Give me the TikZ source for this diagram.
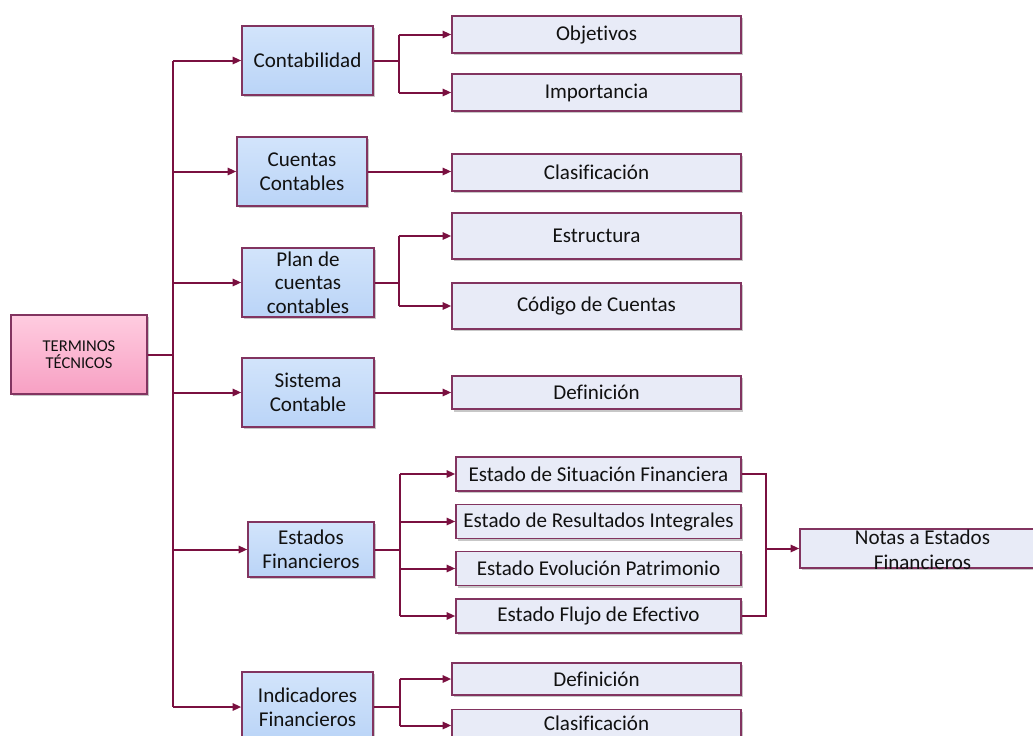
\documentclass[tikz,border=0pt]{standalone}
\usepackage{fontspec}
\setmainfont{Carlito}[Ligatures=NoCommon]
\usetikzlibrary{arrows.meta,shadows}

\definecolor{wire}{HTML}{7A1040}
\definecolor{edge}{HTML}{823460}
\definecolor{ink}{HTML}{111111}
\definecolor{blueT}{HTML}{D2E4FB}
\definecolor{blueB}{HTML}{BAD4F7}
\definecolor{pinkT}{HTML}{FFCCE0}
\definecolor{pinkB}{HTML}{F7A0C3}
\definecolor{lav}{HTML}{E8EBF7}

\begin{document}
\begin{tikzpicture}[x=0.75pt,y=-0.75pt,
  box/.style={draw=edge, line width=1.1pt, inner sep=0pt, align=center, text=ink,
    drop shadow={shadow xshift=1.8pt, shadow yshift=-1.8pt, fill=black, opacity=0.22}},
  bigfont/.style={font=\fontsize{15.8}{18}\selectfont},
  bluebox/.style={box, bigfont, top color=blueT, bottom color=blueB},
  rootbox/.style={box, font=\fontsize{12.4}{13}\selectfont, top color=pinkT, bottom color=pinkB},
  leafbox/.style={box, bigfont, fill=lav, minimum width=216.75pt},
  label/.style={inner sep=0pt, align=center, text=ink, bigfont},
  wire/.style={draw=wire, line width=1.5pt, line join=miter},
  arr/.style={wire, -{Triangle[length=6.5pt,width=5.5pt]}}
]
\useasboundingbox (0,0) rectangle (1033,736);

% root
\node[rootbox, minimum width=102pt, minimum height=59.25pt] (root) at (79,354.5) {TERMINOS\\TÉCNICOS};

% first level
\node[bluebox, minimum width=98.25pt, minimum height=51.75pt] (conta) at (307.5,60.5) {Contabilidad};
\node[bluebox, minimum width=97.5pt, minimum height=51.75pt] (cuen) at (302,171.5) {Cuentas\\Contables};
\node[bluebox, minimum width=99pt, minimum height=51.75pt] (plan) at (308,282.5) {};
\node[label, font=\fontsize{15.8}{17.6}\selectfont] at (plan.center) {Plan de\\cuentas\\contables};
\node[bluebox, minimum width=99pt, minimum height=51.75pt] (sis) at (308,392.5) {Sistema\\Contable};
\node[bluebox, minimum width=94.5pt, minimum height=41.25pt] (est) at (311,549.5) {Estados\\Financieros};
\node[bluebox, minimum width=98.25pt, minimum height=52.5pt] (indi) at (307.5,707) {Indicadores\\Financieros};

% second level
\node[leafbox, minimum height=27.75pt] (obj) at (596.5,34.5) {Objetivos};
\node[leafbox, minimum height=27.75pt] (imp) at (596.5,92.5) {Importancia};
\node[leafbox, minimum height=27.75pt] (clas) at (596.5,172.5) {Clasificación};
\node[leafbox, minimum height=34.5pt] (estr) at (596.5,236) {Estructura};
\node[leafbox, minimum height=34.5pt] (cod) at (596.5,306) {Código de Cuentas};
\node[leafbox, minimum height=25pt] (defs) at (596.5,392.5) {Definición};
\node[leafbox, minimum width=213.75pt, minimum height=25.5pt] (esf) at (598.5,474) {Estado de Situación Financiera};
\node[leafbox, minimum width=213.75pt, minimum height=25.5pt] (eri) at (598.5,521.5) {Estado de Resultados Integrales};
\node[leafbox, minimum width=213.75pt, minimum height=25.5pt] (eep) at (598.5,568.5) {Estado Evolución Patrimonio};
\node[leafbox, minimum width=213.75pt, minimum height=25.5pt] (efe) at (598.5,616) {Estado Flujo de Efectivo};
\node[leafbox, minimum height=24pt] (defi) at (596.5,679) {Definición};
\node[leafbox, minimum height=24pt] (clai) at (596.5,725.5) {};
\node[label] at (596.5,723.5) {Clasificación};

% third level
\node[leafbox, minimum width=183.75pt, minimum height=29.25pt] (notas) at (922.5,548.5) {};
\node[label, font=\fontsize{15.8}{18.6}\selectfont] at (922.5,549.5) {Notas a Estados\\Financieros};

% junction columns
\coordinate (tk) at (173,354.5);
\coordinate (ja) at (398.5,0);
\coordinate (jc) at (400,0);
\coordinate (jd) at (399.5,0);
\coordinate (je) at (766,0);

% trunk
\draw[wire] (root.east) -- (tk);
\draw[wire] (tk |- conta) -- (tk |- indi);
\foreach \n in {conta,cuen,plan,sis,est,indi}
  \draw[arr] (tk |- \n) -- (\n.west);

% Contabilidad
\draw[wire] (conta.east) -- (ja |- conta);
\draw[wire] (ja |- obj) -- (ja |- imp);
\draw[arr] (ja |- obj) -- (obj.west);
\draw[arr] (ja |- imp) -- (imp.west);

% Cuentas contables
\draw[arr] (cuen.east) -- (clas.west |- cuen);

% Plan de cuentas
\draw[wire] (plan.east) -- (ja |- plan);
\draw[wire] (ja |- estr) -- (ja |- cod);
\draw[arr] (ja |- estr) -- (estr.west);
\draw[arr] (ja |- cod) -- (cod.west);

% Sistema contable
\draw[arr] (sis.east) -- (defs.west);

% Estados financieros
\draw[wire] (est.east) -- (jc |- est);
\draw[wire] (jc |- esf) -- (jc |- efe);
\foreach \n in {esf,eri,eep,efe}
  \draw[arr] (jc |- \n) -- (\n.west);
\draw[wire] (esf.east) -- (je |- esf) -- (je |- efe) -- (efe.east);
\draw[arr] (je |- notas) -- (notas.west);

% Indicadores financieros
\draw[wire] (indi.east) -- (jd |- indi);
\draw[wire] (jd |- defi) -- (jd |- clai);
\draw[arr] (jd |- defi) -- (defi.west);
\draw[arr] (jd |- clai) -- (clai.west);
\end{tikzpicture}
\end{document}
